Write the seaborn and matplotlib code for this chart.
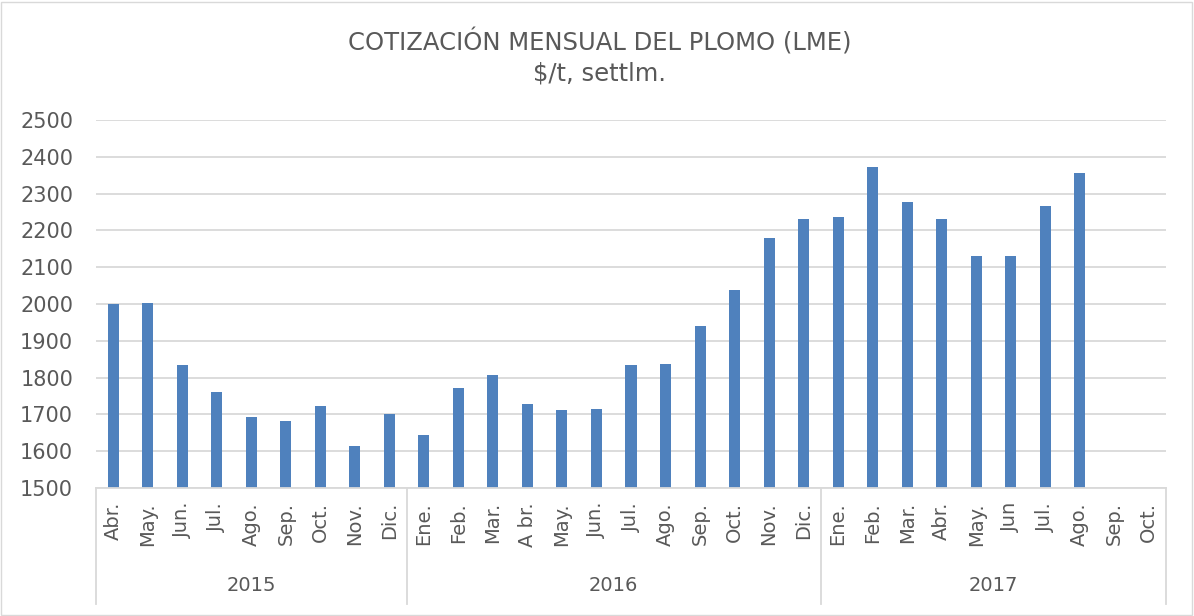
import numpy as np
import pandas as pd
import matplotlib
matplotlib.use("Agg")
import matplotlib.pyplot as plt
import seaborn as sb

years = ["2015", "2016", "2017"]
meses_2015 = ["Abr.", "May.", "Jun.", "Jul.", "Ago.", "Sep.", "Oct.", "Nov.", "Dic."]
meses_2016 = ["Ene.", "Feb.", "Mar.", "A br.", "May.", "Jun.", "Jul.", "Ago.", "Sep.", "Oct.", "Nov.", "Dic."]
meses_2017 = ["Ene.", "Feb.", "Mar.", "Abr.", "May.", "Jun", "Jul.", "Ago.", "Sep.", "Oct."]

precio_2015 = [2000, 2003, 1835, 1761, 1692, 1681, 1724, 1615, 1700]
precio_2016 = [1645, 1771, 1807, 1728, 1713, 1715, 1834, 1838, 1941, 2039, 2179, 2230]
precio_2017 = [2236, 2371, 2277, 2231, 2131, 2131, 2265, 2357, np.nan, np.nan]

meses = [meses_2015, meses_2016, meses_2017]
precios = [precio_2015, precio_2016, precio_2017]

rows = []
for y, ms, ps in zip(years, meses, precios):
    for m, p in zip(ms, ps):
        rows.append({"key": y + "-" + m, "mes": m, "anio": y, "precio": p})
df = pd.DataFrame(rows)

gris = "#595959"
linea = "#D9D9D9"

fig = plt.figure(figsize=(11.94, 6.16), dpi=100)
ax = fig.add_axes([96/1194, 1-488/616, (1166-96)/1194, (488-120)/616])

sb.barplot(data=df, x="key", y="precio", order=list(df["key"]), color="#4F81BD",
           width=0.32, ax=ax, saturation=1, linewidth=0)

ax.set_ylim(1500, 2500)
ax.set_yticks(range(1500, 2501, 100))
ax.set_xlim(-0.5, len(df) - 0.5)
ax.grid(axis="y", color=linea, linewidth=1.3)
ax.set_axisbelow(True)
for s in ["top", "right", "left"]:
    ax.spines[s].set_visible(False)
ax.spines["bottom"].set_color(linea)
ax.spines["bottom"].set_linewidth(1.3)
ax.set_xlabel("")
ax.set_ylabel("")
ax.set_xticks(range(len(df)))
ax.set_xticklabels(df["mes"], rotation=90, fontsize=14, color=gris)
ax.tick_params(axis="x", length=0, pad=10)
ax.tick_params(axis="y", length=0, labelsize=15, labelcolor=gris, pad=16.5)

# year groups under the month labels
bordes = [-0.5]
for ms in meses:
    bordes.append(bordes[-1] + len(ms))
for b in bordes:
    ax.plot([b, b], [0, -0.315], transform=ax.get_xaxis_transform(), color=linea,
            linewidth=1.3, clip_on=False)
for i, y in enumerate(years):
    ax.text((bordes[i] + bordes[i+1]) / 2, -0.265, y, transform=ax.get_xaxis_transform(),
            ha="center", va="center", fontsize=14, color=gris)

fig.text(0.5025, 1-42/616, "COTIZACIÓN MENSUAL DEL PLOMO (LME)", ha="center", va="center",
         fontsize=17.5, color=gris)
fig.text(0.5025, 1-73/616, "$/t, settlm.", ha="center", va="center", fontsize=17.5, color=gris)

fig.patches.append(plt.Rectangle((0.001, 0.002), 0.997, 0.995, transform=fig.transFigure,
                                 fill=False, edgecolor=linea, linewidth=1))

fig.savefig("out.png", dpi=100)
